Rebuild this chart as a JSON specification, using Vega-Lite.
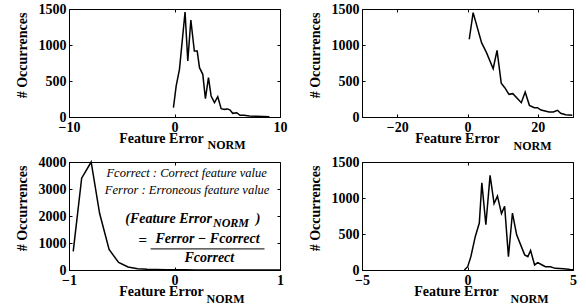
{
  "$schema": "https://vega.github.io/schema/vega-lite/v6.json",
  "padding": {"left": 14, "top": 1, "right": 0, "bottom": 0},
  "background": "white",
  "bounds": "flush",
  "columns": 2,
  "spacing": {"row": 45, "column": 82},
  "datasets": {
    "p1": [
      {"x": -0.1, "y": 130}, {"x": 0.16, "y": 431}, {"x": 0.47, "y": 662}, {"x": 1.0, "y": 1458},
      {"x": 1.26, "y": 778}, {"x": 1.55, "y": 1347}, {"x": 1.88, "y": 917}, {"x": 2.15, "y": 917},
      {"x": 2.37, "y": 685}, {"x": 2.68, "y": 593}, {"x": 2.93, "y": 254}, {"x": 3.22, "y": 546},
      {"x": 3.47, "y": 292}, {"x": 3.79, "y": 199}, {"x": 4.1, "y": 282}, {"x": 4.42, "y": 116},
      {"x": 4.73, "y": 106}, {"x": 5.05, "y": 112}, {"x": 5.27, "y": 97}, {"x": 5.52, "y": 51},
      {"x": 5.9, "y": 60}, {"x": 6.21, "y": 23}, {"x": 6.6, "y": 23}, {"x": 7.1, "y": 14},
      {"x": 7.7, "y": 12}, {"x": 8.4, "y": 6}, {"x": 9.0, "y": 2}
    ],
    "p2": [
      {"x": 0.5, "y": 1080}, {"x": 1.6, "y": 1450}, {"x": 4.0, "y": 1032}, {"x": 5.4, "y": 894},
      {"x": 7.3, "y": 671}, {"x": 8.4, "y": 926}, {"x": 9.6, "y": 468}, {"x": 10.6, "y": 407},
      {"x": 11.8, "y": 315}, {"x": 12.9, "y": 324}, {"x": 15.3, "y": 199}, {"x": 16.4, "y": 347},
      {"x": 17.6, "y": 162}, {"x": 19.0, "y": 130}, {"x": 19.9, "y": 130}, {"x": 20.9, "y": 97},
      {"x": 23.2, "y": 69}, {"x": 24.4, "y": 69}, {"x": 25.6, "y": 93}, {"x": 26.5, "y": 51},
      {"x": 27.9, "y": 32}, {"x": 29.8, "y": 23}
    ],
    "p3": [
      {"x": -0.96, "y": 690}, {"x": -0.88, "y": 3400}, {"x": -0.79, "y": 4000}, {"x": -0.71, "y": 2100},
      {"x": -0.62, "y": 760}, {"x": -0.53, "y": 280}, {"x": -0.44, "y": 110}, {"x": -0.35, "y": 50},
      {"x": -0.26, "y": 28}, {"x": -0.17, "y": 16}, {"x": -0.08, "y": 10}, {"x": 0.0, "y": 7},
      {"x": 0.1, "y": 5}, {"x": 0.2, "y": 4}, {"x": 0.3, "y": 3}, {"x": 0.4, "y": 2},
      {"x": 0.5, "y": 2}, {"x": 0.6, "y": 1}, {"x": 0.7, "y": 1}, {"x": 0.8, "y": 1},
      {"x": 0.9, "y": 0}, {"x": 1.0, "y": 0}
    ],
    "p4": [
      {"x": -0.15, "y": 0}, {"x": 0.01, "y": 46}, {"x": 0.16, "y": 186}, {"x": 0.37, "y": 466},
      {"x": 0.56, "y": 652}, {"x": 0.68, "y": 1211}, {"x": 0.87, "y": 629}, {"x": 1.07, "y": 1314},
      {"x": 1.26, "y": 922}, {"x": 1.42, "y": 1025}, {"x": 1.61, "y": 783}, {"x": 1.76, "y": 885},
      {"x": 1.94, "y": 186}, {"x": 2.13, "y": 791}, {"x": 2.33, "y": 489}, {"x": 2.52, "y": 349},
      {"x": 2.71, "y": 210}, {"x": 2.86, "y": 186}, {"x": 2.99, "y": 270}, {"x": 3.18, "y": 70},
      {"x": 3.33, "y": 102}, {"x": 3.54, "y": 70}, {"x": 3.69, "y": 46}, {"x": 3.93, "y": 46},
      {"x": 4.16, "y": 23}, {"x": 4.56, "y": 19}, {"x": 4.87, "y": 8}, {"x": 5.0, "y": 5}
    ],
    "note": [{"k": 1}]
  },
  "concat": [
    {
      "width": 211, "height": 108,
      "layer": [
        {
          "data": {"name": "p1"},
          "mark": {"type": "line", "color": "black", "strokeWidth": 1.5},
          "encoding": {
            "x": {"field": "x", "type": "quantitative", "scale": {"domain": [-10, 10], "nice": false},
                  "axis": {"values": [-10, 0, 10], "title": "Feature Error", "titleX": 92, "titleY": 25, "titleBaseline": "alphabetic"}},
            "y": {"field": "y", "type": "quantitative", "scale": {"domain": [0, 1500], "nice": false},
                  "axis": {"values": [0, 500, 1000, 1500], "title": "# Occurrences", "titleX": -40, "titleY": 46}}
          }
        },
        {
          "data": {"name": "p1"},
          "mark": {"type": "line", "strokeOpacity": 0},
          "encoding": {
            "x": {"field": "x", "type": "quantitative", "axis": {"orient": "top", "labels": false, "title": null, "domain": false, "values": [-10, 0, 10]}},
            "y": {"field": "y", "type": "quantitative", "axis": {"orient": "right", "labels": false, "title": null, "domain": false, "values": [0, 500, 1000, 1500]}}
          }
        },
        {
          "data": {"name": "p1"},
          "mark": {"type": "line", "strokeOpacity": 0},
          "encoding": {
            "x": {"field": "x", "type": "quantitative", "axis": {"orient": "bottom", "labels": false, "ticks": false, "domain": false, "title": "NORM", "titleX": 157, "titleY": 31, "titleFontSize": 12, "titleBaseline": "alphabetic"}},
            "y": {"field": "y", "type": "quantitative", "axis": null}
          }
        }
      ],
      "resolve": {"axis": {"x": "independent", "y": "independent"}}
    },
    {
      "width": 211, "height": 108,
      "layer": [
        {
          "data": {"name": "p2"},
          "mark": {"type": "line", "color": "black", "strokeWidth": 1.5},
          "encoding": {
            "x": {"field": "x", "type": "quantitative", "scale": {"domain": [-30, 30], "nice": false},
                  "axis": {"values": [-20, 0, 20], "title": "Feature Error", "titleX": 95, "titleY": 25, "titleBaseline": "alphabetic"}},
            "y": {"field": "y", "type": "quantitative", "scale": {"domain": [0, 1500], "nice": false},
                  "axis": {"values": [0, 500, 1000, 1500], "title": "# Occurrences", "titleX": -40, "titleY": 46}}
          }
        },
        {
          "data": {"name": "p2"},
          "mark": {"type": "line", "strokeOpacity": 0},
          "encoding": {
            "x": {"field": "x", "type": "quantitative", "axis": {"orient": "top", "labels": false, "title": null, "domain": false, "values": [-20, 0, 20]}},
            "y": {"field": "y", "type": "quantitative", "axis": {"orient": "right", "labels": false, "title": null, "domain": false, "values": [0, 500, 1000, 1500]}}
          }
        },
        {
          "data": {"name": "p2"},
          "mark": {"type": "line", "strokeOpacity": 0},
          "encoding": {
            "x": {"field": "x", "type": "quantitative", "axis": {"orient": "bottom", "labels": false, "ticks": false, "domain": false, "title": "NORM", "titleX": 170, "titleY": 32, "titleFontSize": 12, "titleBaseline": "alphabetic"}},
            "y": {"field": "y", "type": "quantitative", "axis": null}
          }
        }
      ],
      "resolve": {"axis": {"x": "independent", "y": "independent"}}
    },
    {
      "width": 211, "height": 108,
      "layer": [
        {
          "data": {"name": "p3"},
          "mark": {"type": "line", "color": "black", "strokeWidth": 1.5},
          "encoding": {
            "x": {"field": "x", "type": "quantitative", "scale": {"domain": [-1, 1], "nice": false},
                  "axis": {"values": [-1, 0, 1], "title": "Feature Error", "titleX": 92, "titleY": 25, "titleBaseline": "alphabetic"}},
            "y": {"field": "y", "type": "quantitative", "scale": {"domain": [0, 4000], "nice": false},
                  "axis": {"values": [0, 1000, 2000, 3000, 4000], "title": "# Occurrences", "titleX": -40, "titleY": 46}}
          }
        },
        {
          "data": {"name": "p3"},
          "mark": {"type": "line", "strokeOpacity": 0},
          "encoding": {
            "x": {"field": "x", "type": "quantitative", "axis": {"orient": "top", "labels": false, "title": null, "domain": false, "values": [-1, 0, 1]}},
            "y": {"field": "y", "type": "quantitative", "axis": {"orient": "right", "labels": false, "title": null, "domain": false, "values": [0, 1000, 2000, 3000, 4000]}}
          }
        },
        {
          "data": {"name": "p3"},
          "mark": {"type": "line", "strokeOpacity": 0},
          "encoding": {
            "x": {"field": "x", "type": "quantitative", "axis": {"orient": "bottom", "labels": false, "ticks": false, "domain": false, "title": "NORM", "titleX": 156, "titleY": 32, "titleFontSize": 12, "titleBaseline": "alphabetic"}},
            "y": {"field": "y", "type": "quantitative", "axis": null}
          }
        },
        {
          "data": {"name": "note"},
          "mark": {"type": "text", "font": "Liberation Serif", "fontStyle": "italic", "fontSize": 12.5, "align": "left", "baseline": "alphabetic", "color": "black"},
          "encoding": {
            "x": {"datum": -0.645, "type": "quantitative", "axis": null},
            "y": {"datum": 3440, "type": "quantitative", "axis": null},
            "text": {"value": "Fcorrect : Correct feature value"}
          }
        },
        {
          "data": {"name": "note"},
          "mark": {"type": "text", "font": "Liberation Serif", "fontStyle": "italic", "fontSize": 12.5, "align": "left", "baseline": "alphabetic", "color": "black"},
          "encoding": {
            "x": {"datum": -0.66, "type": "quantitative", "axis": null},
            "y": {"datum": 2820, "type": "quantitative", "axis": null},
            "text": {"value": "Ferror : Erroneous feature value"}
          }
        },
        {
          "data": {"name": "note"},
          "mark": {"type": "text", "font": "Liberation Serif", "fontStyle": "italic", "fontWeight": "bold", "fontSize": 14, "align": "right", "baseline": "alphabetic", "color": "black"},
          "encoding": {
            "x": {"datum": 0.355, "type": "quantitative", "axis": null},
            "y": {"datum": 1740, "type": "quantitative", "axis": null},
            "text": {"value": "(Feature Error"}
          }
        },
        {
          "data": {"name": "note"},
          "mark": {"type": "text", "font": "Liberation Serif", "fontStyle": "italic", "fontWeight": "bold", "fontSize": 12, "align": "left", "baseline": "alphabetic", "color": "black"},
          "encoding": {
            "x": {"datum": 0.365, "type": "quantitative", "axis": null},
            "y": {"datum": 1610, "type": "quantitative", "axis": null},
            "text": {"value": "NORM"}
          }
        },
        {
          "data": {"name": "note"},
          "mark": {"type": "text", "font": "Liberation Serif", "fontStyle": "italic", "fontWeight": "bold", "fontSize": 14, "align": "left", "baseline": "alphabetic", "color": "black"},
          "encoding": {
            "x": {"datum": 0.77, "type": "quantitative", "axis": null},
            "y": {"datum": 1740, "type": "quantitative", "axis": null},
            "text": {"value": ")"}
          }
        },
        {
          "data": {"name": "note"},
          "mark": {"type": "text", "font": "Liberation Serif", "fontWeight": "bold", "fontSize": 15, "align": "center", "baseline": "middle", "color": "black"},
          "encoding": {
            "x": {"datum": -0.3, "type": "quantitative", "axis": null},
            "y": {"datum": 1110, "type": "quantitative", "axis": null},
            "text": {"value": "="}
          }
        },
        {
          "data": {"name": "note"},
          "mark": {"type": "text", "font": "Liberation Serif", "fontStyle": "italic", "fontWeight": "bold", "fontSize": 14, "align": "center", "baseline": "alphabetic", "color": "black"},
          "encoding": {
            "x": {"datum": 0.313, "type": "quantitative", "axis": null},
            "y": {"datum": 1000, "type": "quantitative", "axis": null},
            "text": {"value": "Ferror − Fcorrect"}
          }
        },
        {
          "data": {"name": "note"},
          "mark": {"type": "rule", "color": "#333333", "strokeWidth": 1.3},
          "encoding": {
            "x": {"datum": -0.227, "type": "quantitative", "axis": null},
            "x2": {"datum": 0.853},
            "y": {"datum": 783, "type": "quantitative", "axis": null}
          }
        },
        {
          "data": {"name": "note"},
          "mark": {"type": "text", "font": "Liberation Serif", "fontStyle": "italic", "fontWeight": "bold", "fontSize": 14, "align": "center", "baseline": "alphabetic", "color": "black"},
          "encoding": {
            "x": {"datum": 0.33, "type": "quantitative", "axis": null},
            "y": {"datum": 280, "type": "quantitative", "axis": null},
            "text": {"value": "Fcorrect"}
          }
        }
      ],
      "resolve": {"axis": {"x": "independent", "y": "independent"}}
    },
    {
      "width": 211, "height": 108,
      "layer": [
        {
          "data": {"name": "p4"},
          "mark": {"type": "line", "color": "black", "strokeWidth": 1.5},
          "encoding": {
            "x": {"field": "x", "type": "quantitative", "scale": {"domain": [-5, 5], "nice": false},
                  "axis": {"values": [-5, 0, 5], "title": "Feature Error", "titleX": 94, "titleY": 25, "titleBaseline": "alphabetic"}},
            "y": {"field": "y", "type": "quantitative", "scale": {"domain": [0, 1500], "nice": false},
                  "axis": {"values": [0, 500, 1000, 1500], "title": "# Occurrences", "titleX": -40, "titleY": 46}}
          }
        },
        {
          "data": {"name": "p4"},
          "mark": {"type": "line", "strokeOpacity": 0},
          "encoding": {
            "x": {"field": "x", "type": "quantitative", "axis": {"orient": "top", "labels": false, "title": null, "domain": false, "values": [-5, 0, 5]}},
            "y": {"field": "y", "type": "quantitative", "axis": {"orient": "right", "labels": false, "title": null, "domain": false, "values": [0, 500, 1000, 1500]}}
          }
        },
        {
          "data": {"name": "p4"},
          "mark": {"type": "line", "strokeOpacity": 0},
          "encoding": {
            "x": {"field": "x", "type": "quantitative", "axis": {"orient": "bottom", "labels": false, "ticks": false, "domain": false, "title": "NORM", "titleX": 167, "titleY": 32, "titleFontSize": 12, "titleBaseline": "alphabetic"}},
            "y": {"field": "y", "type": "quantitative", "axis": null}
          }
        }
      ],
      "resolve": {"axis": {"x": "independent", "y": "independent"}}
    }
  ],
  "config": {
    "view": {"stroke": "black", "strokeWidth": 1},
    "axis": {
      "grid": false, "format": "d",
      "labelFont": "Liberation Serif", "labelFontWeight": "bold", "labelFontSize": 14, "labelColor": "black",
      "titleFont": "Liberation Serif", "titleFontWeight": "bold", "titleFontSize": 14, "titleColor": "black",
      "domainColor": "black", "tickColor": "black", "tickSize": -3, "labelPadding": 6,
      "labelFlush": false, "labelOverlap": false
    }
  }
}
